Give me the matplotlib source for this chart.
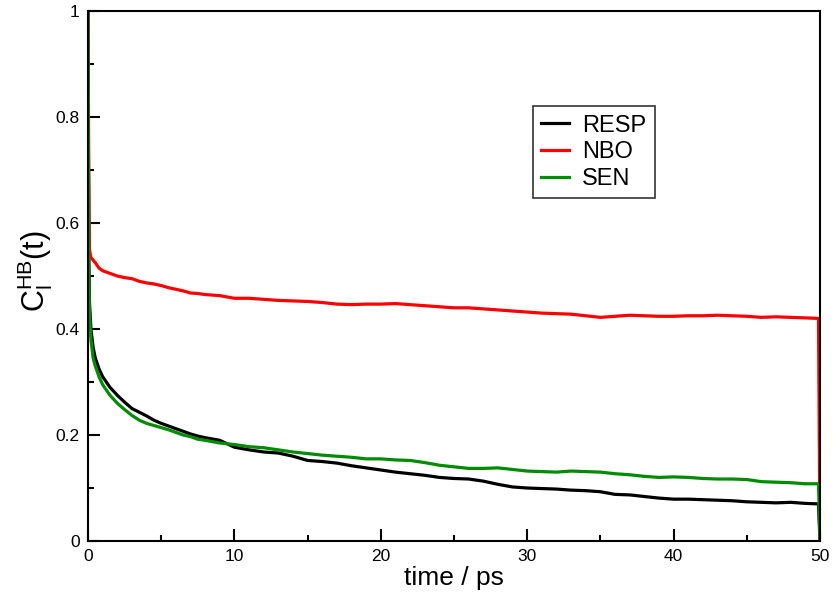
import matplotlib
matplotlib.use("Agg")
import matplotlib.pyplot as plt
from matplotlib.ticker import MultipleLocator, FormatStrFormatter

plt.rcParams["font.family"] = ["Liberation Sans", "DejaVu Sans"]
plt.rcParams["mathtext.fontset"] = "custom"
plt.rcParams["mathtext.rm"] = "Liberation Sans"

# ---------- data ----------
t = [0, 0.05, 0.1, 0.2, 0.35, 0.5, 0.75, 1, 1.5, 2, 2.5, 3, 3.5, 4, 4.5, 5,
     5.5, 6, 6.5, 7, 7.5, 8,
     9, 10, 11, 12, 13, 14, 15, 16, 17, 18, 19, 20, 21, 22, 23, 24, 25, 26,
     27, 28, 29, 30, 31, 32, 33, 34, 35, 36, 37, 38, 39, 40, 41, 42, 43, 44,
     45, 46, 47, 48, 49, 49.9, 50]

resp = [1.0, 0.55, 0.45, 0.40, 0.365, 0.345, 0.325, 0.31, 0.29, 0.275, 0.262,
        0.25, 0.243, 0.236, 0.228, 0.222, 0.217, 0.212, 0.207, 0.202, 0.198,
        0.195,
        0.19, 0.177, 0.172, 0.168, 0.166, 0.16, 0.152, 0.15, 0.147, 0.142,
        0.138, 0.134, 0.13, 0.127, 0.124, 0.12, 0.118, 0.117, 0.113, 0.107,
        0.102, 0.1, 0.099, 0.098, 0.096, 0.095, 0.093, 0.088, 0.087, 0.084,
        0.081, 0.079, 0.079, 0.078, 0.077, 0.076, 0.074, 0.073, 0.072, 0.073,
        0.071, 0.07, 0.0]

nbo = [1.0, 0.70, 0.55, 0.535, 0.53, 0.525, 0.515, 0.51, 0.505, 0.50, 0.497,
       0.495, 0.49, 0.487, 0.485, 0.482, 0.478, 0.475, 0.472, 0.468, 0.467,
       0.465,
       0.463, 0.458, 0.458, 0.456, 0.454, 0.453, 0.452, 0.45, 0.447, 0.446,
       0.447, 0.447, 0.448, 0.446, 0.444, 0.442, 0.44, 0.44, 0.438, 0.436,
       0.434, 0.432, 0.43, 0.429, 0.428, 0.425, 0.422, 0.424, 0.426, 0.425,
       0.424, 0.424, 0.425, 0.425, 0.426, 0.425, 0.424, 0.422, 0.423, 0.422,
       0.421, 0.42, 0.0]

sen = [1.0, 0.52, 0.43, 0.38, 0.345, 0.33, 0.31, 0.295, 0.275, 0.26, 0.248,
       0.237, 0.228, 0.222, 0.218, 0.214, 0.21, 0.205, 0.2, 0.197, 0.192,
       0.19,
       0.185, 0.182, 0.178, 0.176, 0.172, 0.168, 0.165, 0.162, 0.16, 0.158,
       0.155, 0.155, 0.153, 0.152, 0.148, 0.143, 0.14, 0.137, 0.137, 0.138,
       0.135, 0.132, 0.131, 0.13, 0.132, 0.131, 0.13, 0.127, 0.125, 0.122,
       0.12, 0.121, 0.12, 0.118, 0.117, 0.117, 0.116, 0.112, 0.111, 0.11,
       0.108, 0.108, 0.0]

labels = ["RESP", "NBO", "SEN"]
colors = ["black", "#ff0000", "#008c00"]

# ---------- plot ----------
fig = plt.figure(figsize=(8.35, 5.99), dpi=100)
ax = fig.add_axes([0.1054, 0.0968, 0.8766, 0.8848])

for y, lab, c in zip([resp, nbo, sen], labels, colors):
    ax.plot(t, y, color=c, lw=2.3, label=lab)

ax.set_xlim(0, 50)
ax.set_ylim(0, 1)
ax.xaxis.set_major_locator(MultipleLocator(10))
ax.xaxis.set_minor_locator(MultipleLocator(5))
ax.yaxis.set_major_locator(MultipleLocator(0.2))
ax.yaxis.set_minor_locator(MultipleLocator(0.1))
ax.yaxis.set_major_formatter(FormatStrFormatter("%g"))
ax.tick_params(which="both", direction="in", top=False, right=False,
               width=1.5, labelsize=12.5)
ax.tick_params(which="major", length=8.5, pad=6)
ax.tick_params(which="minor", length=4.3)
for s in ax.spines.values():
    s.set_linewidth(1.5)

ax.set_xlabel("time / ps", fontsize=19, labelpad=1)
ax.set_ylabel(r"$\mathregular{C_l^{HB}(t)}$", fontsize=22, va="center")
ax.yaxis.set_label_coords(-0.072, 0.51)

leg = ax.legend(loc="upper left", bbox_to_anchor=(0.6075, 0.82),
                fontsize=17, frameon=True, fancybox=False, handlelength=1.2,
                handletextpad=0.55, borderpad=0.35, labelspacing=0.2,
                borderaxespad=0)
leg.get_frame().set_edgecolor("black")
leg.get_frame().set_linewidth(1.2)

fig.savefig("out.png", dpi=100)
